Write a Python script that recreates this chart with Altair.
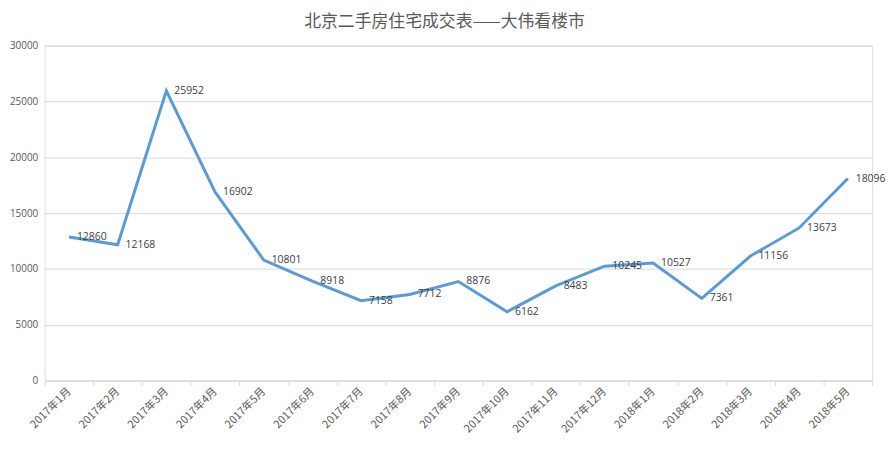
import altair as alt
import pandas as pd

months = ["2017年1月", "2017年2月", "2017年3月", "2017年4月", "2017年5月", "2017年6月",
          "2017年7月", "2017年8月", "2017年9月", "2017年10月", "2017年11月", "2017年12月",
          "2018年1月", "2018年2月", "2018年3月", "2018年4月", "2018年5月"]
values = [12860, 12168, 25952, 16902, 10801, 8918, 7158, 7712, 8876, 6162, 8483, 10245,
          10527, 7361, 11156, 13673, 18096]

df = pd.DataFrame({"month": months, "value": values})

x = alt.X("month:N", sort=months, title=None, bandPosition=0.5,
          scale=alt.Scale(type="band", paddingInner=0, paddingOuter=0),
          axis=alt.Axis(labelAngle=-45, labelAlign="right", labelBaseline="middle",
                        labelFont="Noto Sans CJK SC", labelFontSize=11, labelColor="#595959",
                        domainColor="#d9d9d9", tickColor="#d9d9d9", tickSize=5,
                        tickBand="extent", labelPadding=4, grid=False))
y = alt.Y("value:Q", title=None,
          scale=alt.Scale(domain=[0, 30000], nice=False),
          axis=alt.Axis(values=list(range(0, 30001, 5000)), format="d", labelFont="Open Sans",
                        labelFontSize=10, labelColor="#595959", gridColor="#d9d9d9",
                        domain=False, ticks=False, labelPadding=7))

line = alt.Chart(df).mark_line(color="#5B9BD5", strokeWidth=3).encode(x=x, y=y)
labels = alt.Chart(df).mark_text(align="left", baseline="middle", dx=8, fontSize=10.5,
                                 font="Open Sans", color="#404040").encode(
    x=x, y=y, text=alt.Text("value:Q", format="d"))

chart = (line + labels).properties(
    width=835, height=338,
    title=alt.TitleParams("北京二手房住宅成交表——大伟看楼市", font="Noto Sans CJK SC",
                          fontSize=17, fontWeight="normal", color="#595959",
                          anchor="middle", dx=-14, offset=10),
    autosize=alt.AutoSizeParams(type="none"),
    padding={"left": 37, "top": 36, "right": 15, "bottom": 62},
).configure_view(stroke=None).configure(background="white")

chart.save("out.html", embed_options={"renderer": "svg", "actions": False})
